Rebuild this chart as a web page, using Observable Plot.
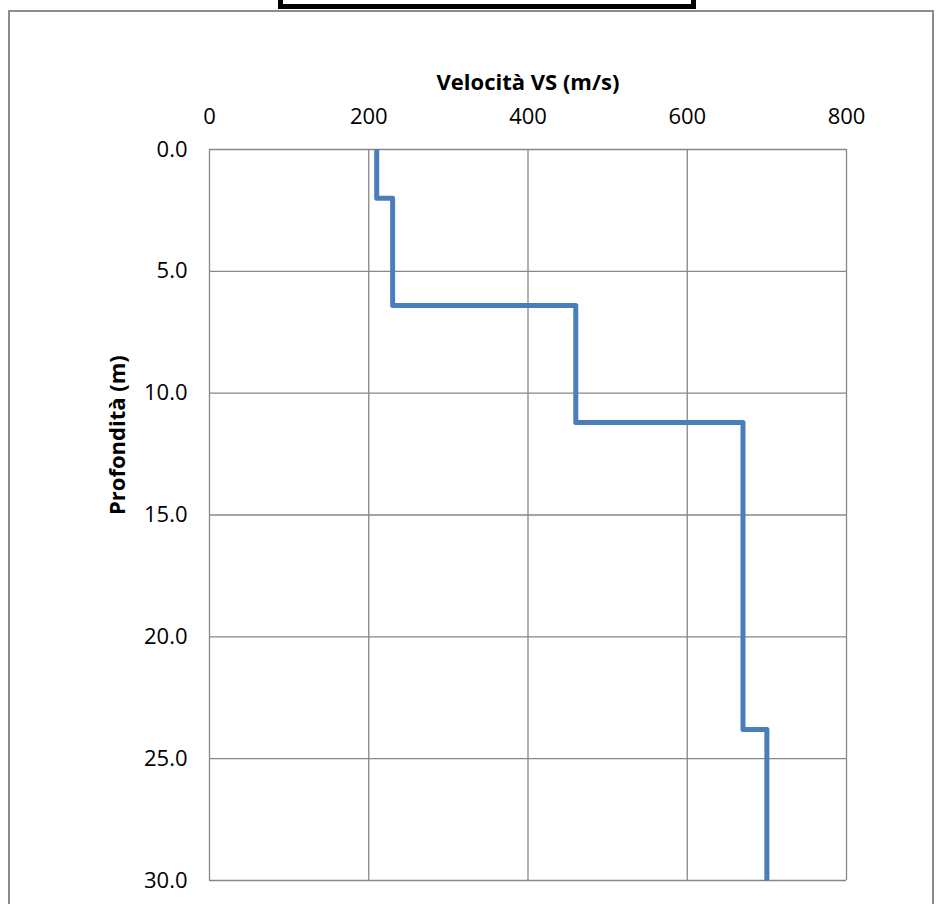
<!DOCTYPE html>
<html>
<head>
<meta charset="utf-8">
<script src="https://cdn.jsdelivr.net/npm/d3@7"></script>
<script src="https://cdn.jsdelivr.net/npm/@observablehq/plot@0.6"></script>
<style>
  html, body { margin: 0; padding: 0; background: #fff; }
  #wrap { position: relative; width: 937px; height: 904px; overflow: hidden; background: #fff; }
  #outer { position: absolute; left: 8px; top: 10px; width: 926px; height: 1000px; border: 2px solid #8c8c8c; box-sizing: border-box; }
  #titlebox { position: absolute; left: 278px; top: -20px; width: 418px; height: 29px; border: 5px solid #000; box-sizing: border-box; background: #fff; }
  #chart { position: absolute; left: 0; top: 0; }
</style>
</head>
<body>
<div id="wrap">
  <div id="outer"></div>
  <div id="titlebox"></div>
  <div id="chart"></div>
</div>
<script>
// Layer data: shear-wave velocity per layer and layer boundaries (depth, m)
const layerVs = [210, 230, 460, 670, 700];
const layerTop = [0.0, 2.0, 6.4, 11.2, 23.8];
const layerBottom = [2.0, 6.4, 11.2, 23.8, 30.0];

const xTicks = [0, 200, 400, 600, 800];
const yTicks = [0, 5, 10, 15, 20, 25, 30];
const xLabel = "Velocità VS (m/s)";
const yLabel = "Profondità (m)";

// Build step profile points
const profile = [];
layerVs.forEach((v, i) => {
  profile.push({vs: v, depth: layerTop[i]});
  profile.push({vs: v, depth: layerBottom[i]});
});

const font = "'Open Sans', sans-serif";

const plot = Plot.plot({
  width: 937,
  height: 904,
  marginLeft: 209,
  marginRight: 91,
  marginTop: 149,
  marginBottom: 24,
  style: {fontFamily: font, fontSize: "22px", color: "#000", background: "transparent"},
  x: {domain: [0, 800]},
  y: {domain: [0, 30], reverse: true},
  marks: [
    Plot.gridX(xTicks, {stroke: "#878787", strokeOpacity: 1, strokeWidth: 1.3}),
    Plot.gridY(yTicks, {stroke: "#878787", strokeOpacity: 1, strokeWidth: 1.3}),
    Plot.axisX(xTicks, {anchor: "top", tickSize: 0, tickPadding: 26, label: null, fontSize: 22, tickFormat: d3.format("d")}),
    Plot.axisY(yTicks, {anchor: "left", tickSize: 0, tickPadding: 22, label: null, fontSize: 22, tickFormat: d3.format(".1f")}),
    Plot.line(profile, {x: "vs", y: "depth", stroke: "#4a7ebb", strokeWidth: 5, strokeLinejoin: "round", strokeLinecap: "butt"}),
    Plot.text([xLabel], {frameAnchor: "top", dy: -75, text: d => d, fontWeight: "bold", fontSize: 22}),
    Plot.text([yLabel], {frameAnchor: "left", dx: -92, rotate: -90, text: d => d, fontWeight: "bold", fontSize: 22})
  ]
});
document.getElementById("chart").appendChild(plot);
</script>
</body>
</html>
